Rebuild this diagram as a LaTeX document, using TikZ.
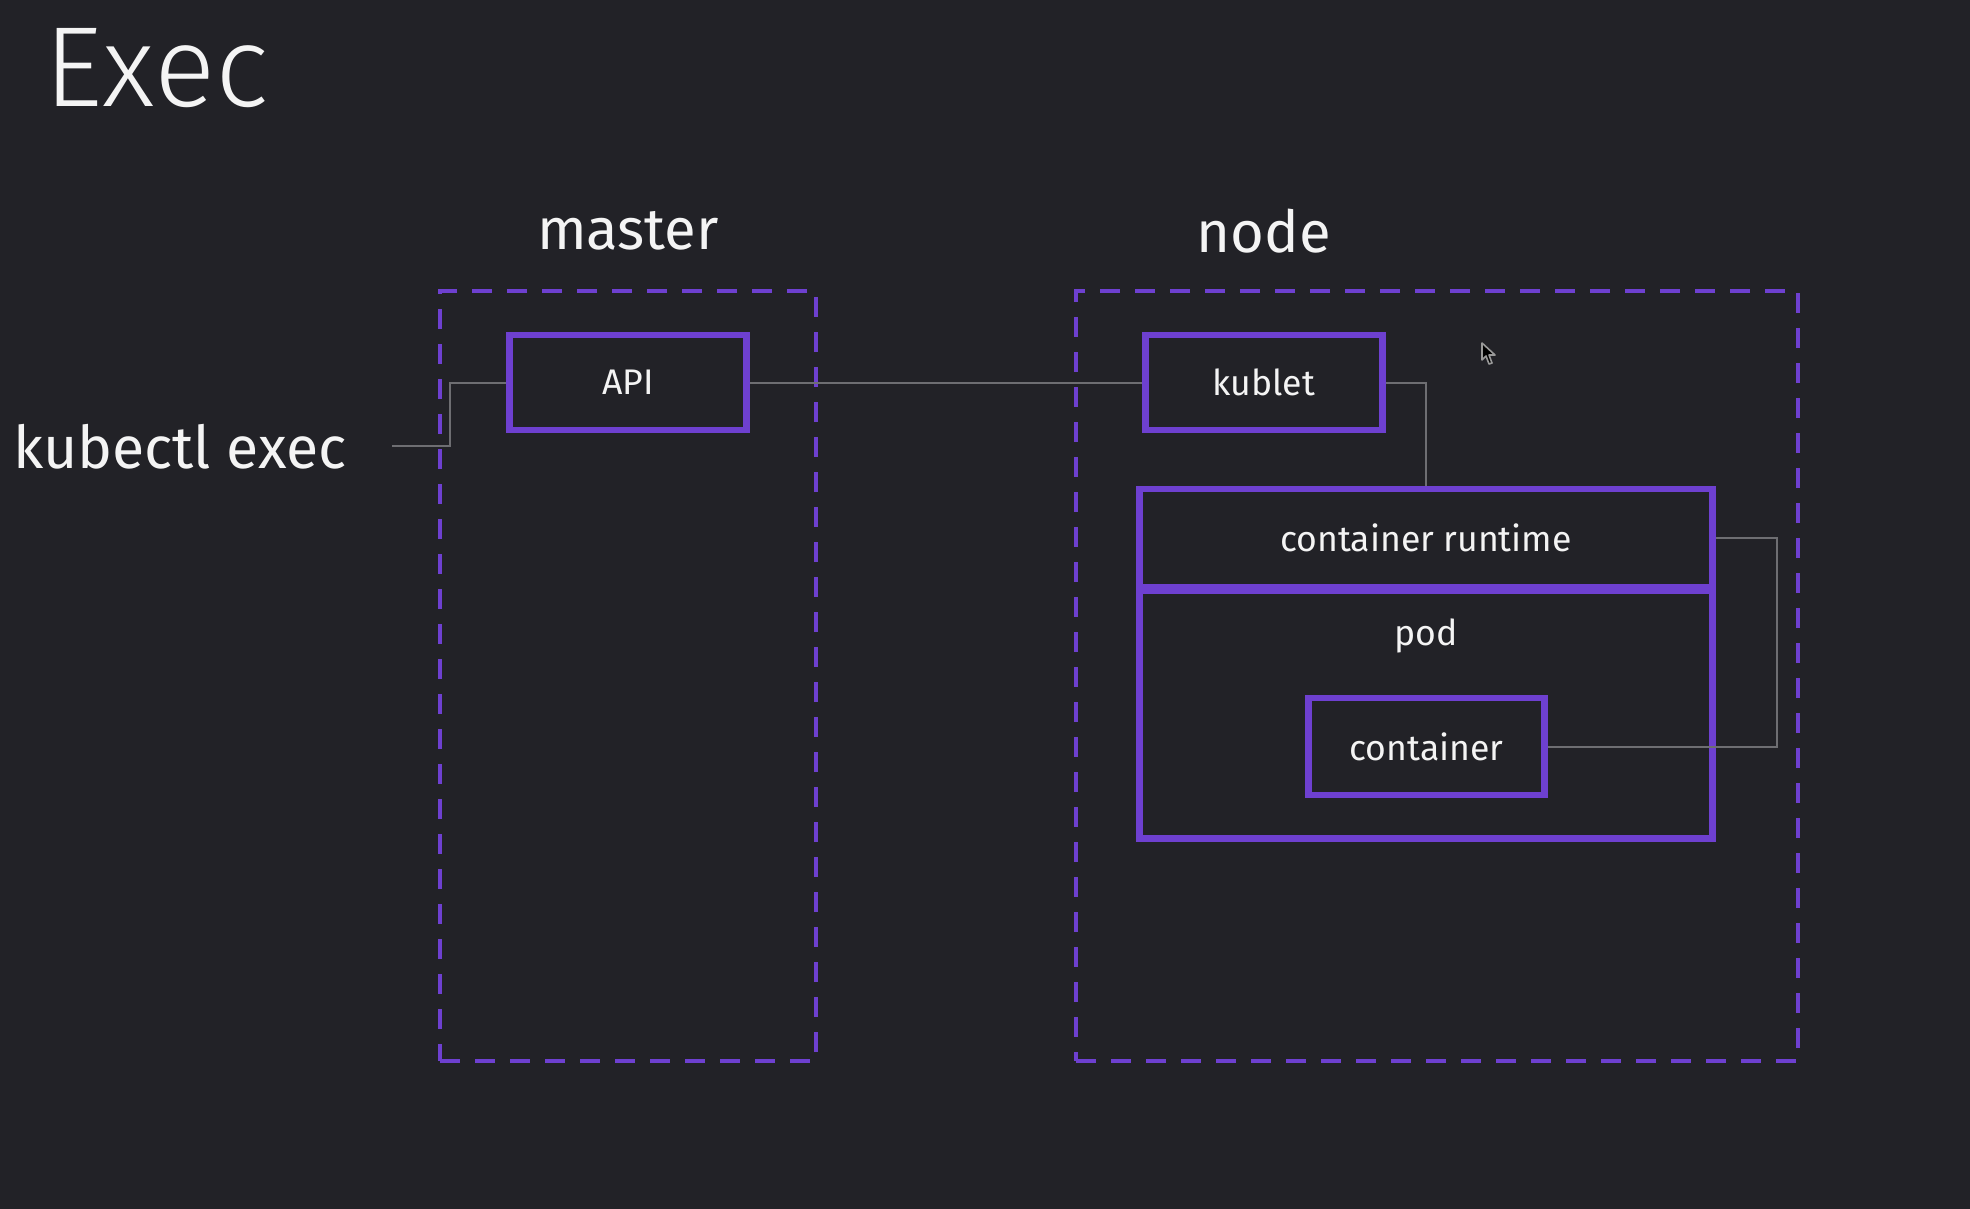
\documentclass[tikz,border=0pt]{standalone}
\usepackage{fontspec}
\setmainfont{Fira Sans}
\newfontfamily\titlefont{Fira Sans Light}
\definecolor{bg}{HTML}{222227}
\definecolor{purp}{HTML}{6E40D0}
\definecolor{wire}{HTML}{6E6E72}
\definecolor{txt}{HTML}{F4F4F4}
\begin{document}
\begin{tikzpicture}[x=0.5pt,y=-0.5pt,
  solidbox/.style={draw=purp,line width=3.4pt,inner sep=0pt,text=txt,font=\fontsize{17.8}{20}\selectfont},
  dashbox/.style={draw=purp,line width=2.2pt,dash pattern=on 10pt off 7.5pt,inner sep=0pt},
  wireline/.style={draw=wire,line width=1pt},
  label/.style={text=txt,inner sep=0pt}]
\fill[bg] (0,0) rectangle (1970,1209);
\useasboundingbox (0,0) rectangle (1970,1209);
% title
\node[label,anchor=west,font=\titlefont\fontsize{57}{60}\selectfont] (title) at (44,68) {Exec};
% group labels
\node[label,font=\fontsize{29}{32}\selectfont] (masterlbl) at (628,231) {master};
\node[label,font=\fontsize{29}{32}\selectfont] (nodelbl) at (1264,231) {node};
% dashed groups
\node[dashbox,minimum width=188pt,minimum height=385pt] (master) at (628,676) {};
\node[dashbox,minimum width=361pt,minimum height=385pt] (worker) at (1437,676) {};
% kubectl exec
\node[label,anchor=west,font=\fontsize{29.5}{33}\selectfont] (kubectl) at (13,447) {kubectl exec};
\coordinate (kstart) at (392,446);
% boxes
\node[solidbox,minimum width=118.5pt,minimum height=47.5pt] (api) at (628,382.5) {API};
\node[solidbox,minimum width=118.5pt,minimum height=47.5pt] (kublet) at (1264,382.5) {kublet};
\node[solidbox,minimum width=286.5pt,minimum height=49pt] (runtime) at (1426,538) {container runtime};
\node[solidbox,minimum width=286.5pt,minimum height=124pt,anchor=north] (pod) at (1426,587) {};
\node[label,font=\fontsize{17.8}{20}\selectfont] (podlbl) at (1426,636) {pod};
\node[solidbox,minimum width=118pt,minimum height=48.5pt] (container) at (1426.5,746.5) {container};
% wires
\draw[wireline] (kstart) -- (450,446) -- (450,382.5) -- (api.west);
\draw[wireline] (api.east) -- (kublet.west);
\draw[wireline] (kublet.east) -- (1426,382.5) -- (runtime.north);
\draw[wireline] (runtime.east) -- (1777,538) -- (1777,746.5) -- (container.east);
% mouse cursor
\draw[fill=black,draw=gray!80,line width=0.8pt,line join=round]
  (1482,343) -- (1482,360) -- (1486,356) -- (1489,364) -- (1492,363) -- (1489,355) -- (1495,355) -- cycle;
\end{tikzpicture}
\end{document}
